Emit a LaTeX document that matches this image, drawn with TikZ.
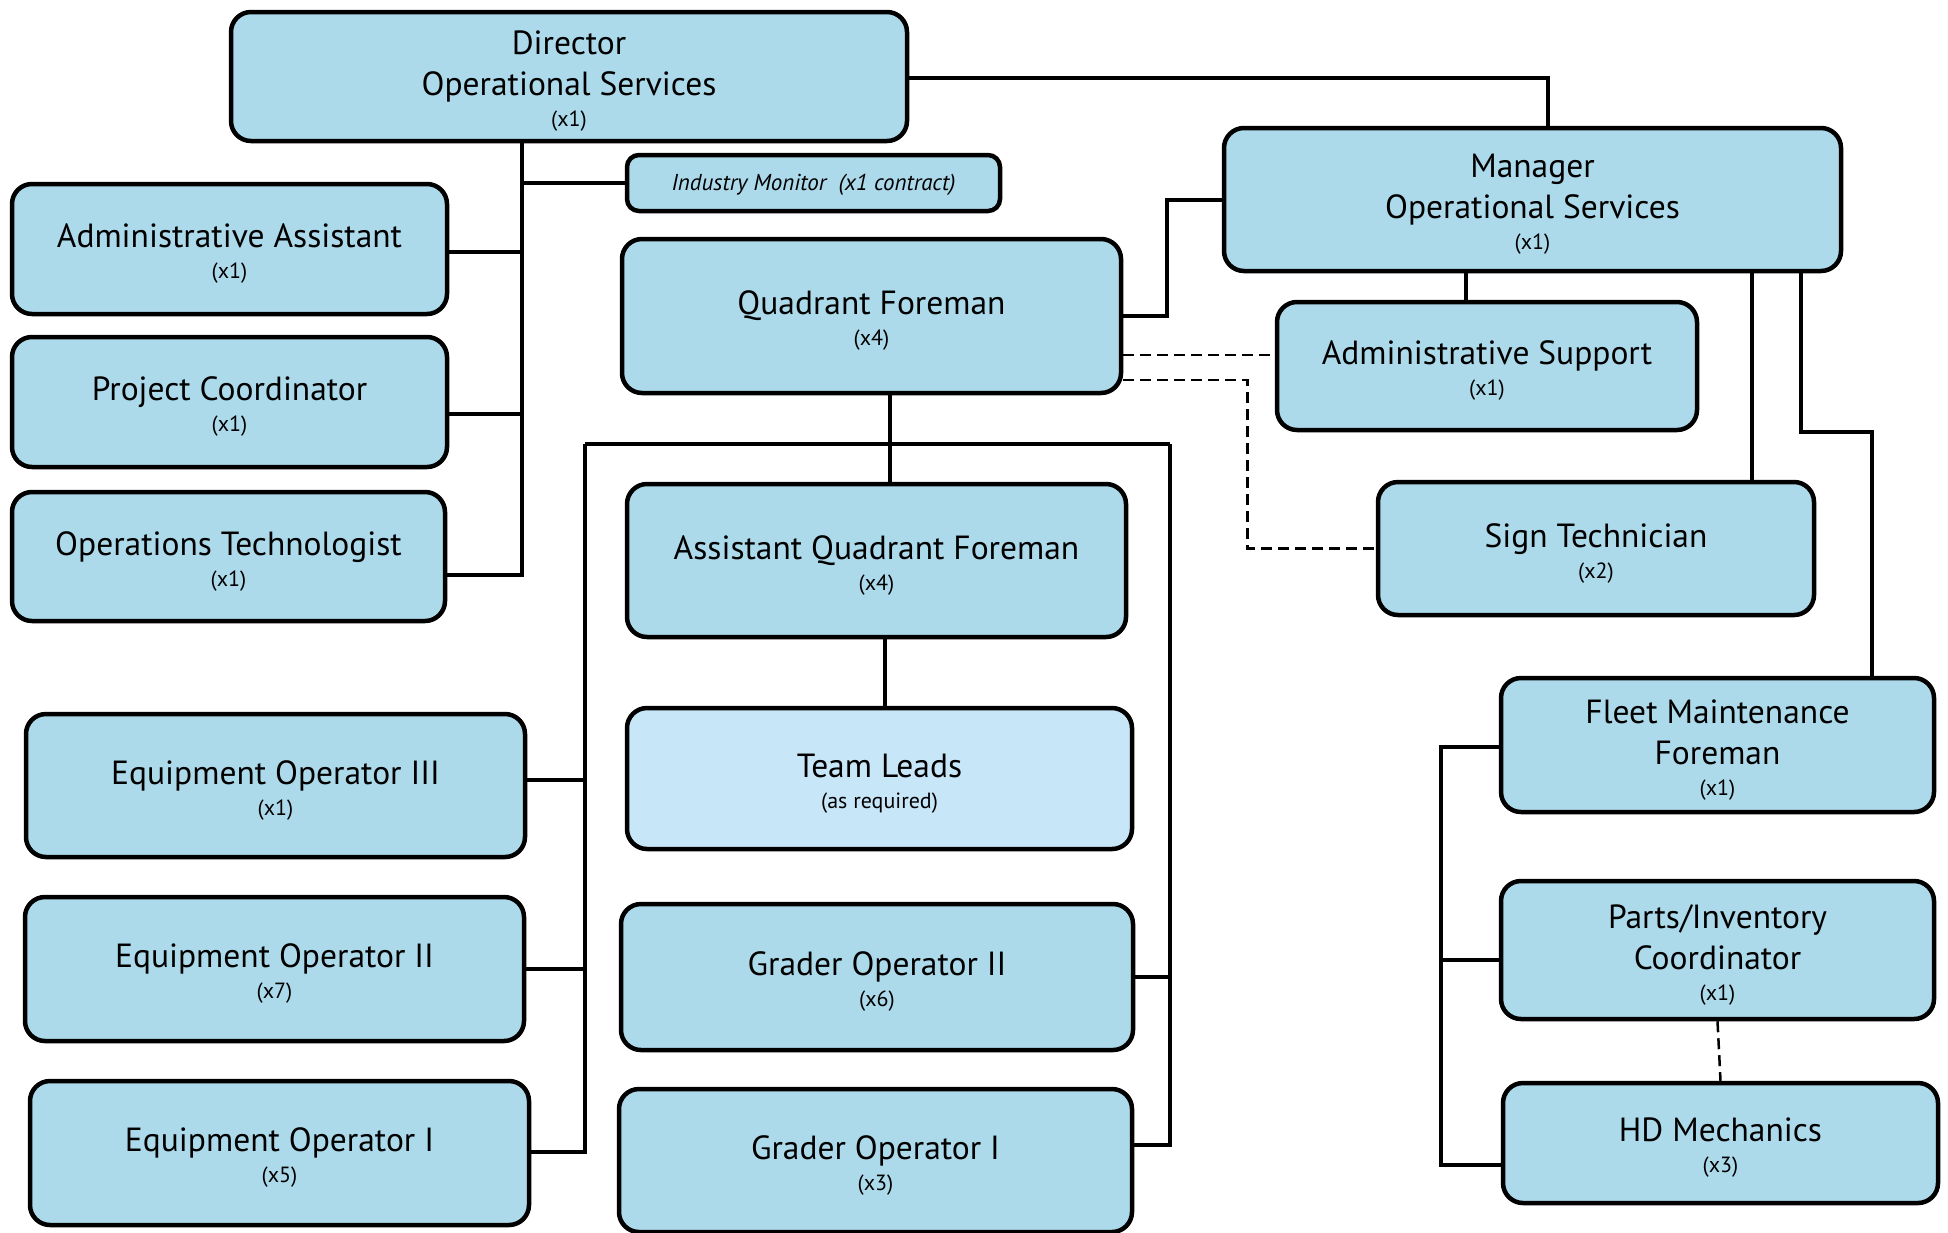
\documentclass[tikz,border=0pt]{standalone}
\usepackage{fontspec}
\setmainfont{PT Sans}

\definecolor{boxblue}{RGB}{172,218,235}
\definecolor{leadblue}{RGB}{199,230,248}

\newcommand{\padtop}{\rule{0pt}{33pt}}
\newcommand{\howmany}[1]{\\[-10pt]{\fontsize{22}{26}\selectfont (#1)}}

\begin{document}
\begin{tikzpicture}[x=1pt, y=-1pt,
    post/.style={draw=black, line width=4.5pt, rounded corners=20pt, fill=boxblue,
      align=center, inner sep=0pt, font=\fontsize{33.5}{41}\selectfont},
    link/.style={line width=4pt},
    dotlink/.style={line width=2.5pt, dash pattern=on 11pt off 6pt}]
  \fill[white] (0,0) rectangle (1948,1232);
  \useasboundingbox (0,0) rectangle (1948,1232);

  % top level
  \node[post, minimum width=676pt, minimum height=129pt] (dir) at (569,76.5) {\padtop Director\\Operational Services\howmany{x1}};
  \node[post, minimum width=373pt, minimum height=56pt, rounded corners=12pt,
        font=\fontsize{23}{27}\selectfont\itshape] (mon) at (813.5,183) {\rule{0pt}{20pt}Industry Monitor~~(x1 contract)};
  \node[post, minimum width=617pt, minimum height=143pt] (mgr) at (1532.5,199.5) {\padtop Manager\\Operational Services\howmany{x1}};

  % office staff
  \node[post, minimum width=435pt, minimum height=130pt] (aa) at (229.5,249) {\padtop Administrative Assistant\howmany{x1}};
  \node[post, minimum width=435pt, minimum height=130pt] (pc) at (229.5,402) {\padtop Project Coordinator\howmany{x1}};
  \node[post, minimum width=433pt, minimum height=129pt] (ot) at (228.5,556.5) {\padtop Operations Technologist\howmany{x1}};

  % quadrant crews
  \node[post, minimum width=499pt, minimum height=154pt] (qf) at (871.5,316) {\padtop Quadrant Foreman\howmany{x4}};
  \node[post, minimum width=499pt, minimum height=153pt] (aqf) at (876.5,560.5) {\padtop Assistant Quadrant Foreman\howmany{x4}};
  \node[post, fill=leadblue, minimum width=505pt, minimum height=141pt] (tl) at (879.5,778.5) {\padtop Team Leads\howmany{as required}};
  \node[post, minimum width=512pt, minimum height=146pt] (go2) at (877,977) {\padtop Grader Operator II\howmany{x6}};
  \node[post, minimum width=513pt, minimum height=143pt] (go1) at (875.5,1160.5) {\padtop Grader Operator I\howmany{x3}};
  \node[post, minimum width=499pt, minimum height=143pt] (eo3) at (275.5,785.5) {\padtop Equipment Operator III\howmany{x1}};
  \node[post, minimum width=499pt, minimum height=144pt] (eo2) at (274.5,969) {\padtop Equipment Operator II\howmany{x7}};
  \node[post, minimum width=499pt, minimum height=144pt] (eo1) at (279.5,1153) {\padtop Equipment Operator I\howmany{x5}};

  % manager side
  \node[post, minimum width=420pt, minimum height=128pt] (as) at (1487,366) {\padtop Administrative Support\howmany{x1}};
  \node[post, minimum width=436pt, minimum height=133pt] (st) at (1596,548.5) {\padtop Sign Technician\howmany{x2}};
  \node[post, minimum width=433pt, minimum height=134pt] (fmf) at (1717.5,745) {\padtop Fleet Maintenance\\Foreman\howmany{x1}};
  \node[post, minimum width=433pt, minimum height=138pt] (pic) at (1717.5,950) {\padtop Parts/Inventory\\Coordinator\howmany{x1}};
  \node[post, minimum width=435pt, minimum height=120pt] (hd) at (1720.5,1143) {\padtop HD Mechanics\howmany{x3}};

  % director lines
  \coordinate (dspine) at ([xshift=-47pt]dir.south);
  \draw[link] ([yshift=-1pt]dir.east) -| ([xshift=15.5pt]mgr.north);
  \draw[link] (dspine) |- ([yshift=-18.5pt]ot.east);
  \draw[link] (mon.west) -| (dspine);
  \draw[link] ([yshift=-3pt]aa.east) -| (dspine);
  \draw[link] ([yshift=-12pt]pc.east) -| (dspine);

  % manager lines
  \draw[link] (mgr.west) -- ++(-55,0) |- (qf.east);
  \draw[link] ([xshift=-66.5pt]mgr.south) -- ++(0,31);
  \draw[link] ([xshift=219.5pt]mgr.south) -- ++(0,211);
  \draw[link] ([xshift=268.5pt]mgr.south) -- ++(0,159) -| ([xshift=154.5pt]fmf.north);
  \draw[dotlink] ([yshift=-39pt]qf.east) -- ([yshift=11pt]as.west);
  \draw[dotlink] ([yshift=-64pt]qf.east) -- ++(124,0) |- (st.west);

  % crew lines
  \coordinate (lspine) at (585,444);
  \coordinate (rspine) at (1170,444);
  \draw[link] ([xshift=18.5pt]qf.south) -- ([xshift=13.5pt]aqf.north);
  \draw[link] ([xshift=8.5pt]aqf.south) -- ([xshift=5.5pt]tl.north);
  \draw[link] (lspine) -- (rspine);
  \draw[link] (lspine) |- ([yshift=1pt]eo1.east);
  \draw[link] ([yshift=5.5pt]eo3.east) -| (lspine);
  \draw[link] (eo2.east) -| (lspine);
  \draw[link] (rspine) |- ([yshift=15.5pt]go1.east);
  \draw[link] (go2.east) -| (rspine);

  % fleet lines
  \draw[link] ([yshift=-2pt]fmf.west) -- ++(-58,0) |- ([yshift=-22pt]hd.west);
  \draw[link] ([yshift=-10pt]pic.west) -- ++(-58,0);
  \draw[dotlink] (pic.south) -- (hd.north);
\end{tikzpicture}
\end{document}
